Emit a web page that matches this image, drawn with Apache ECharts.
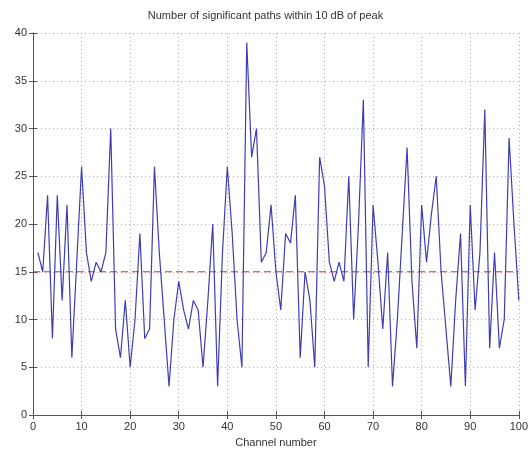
<!DOCTYPE html>
<html>
<head>
<meta charset="utf-8">
<script src="https://cdn.jsdelivr.net/npm/echarts@6/dist/echarts.min.js"></script>
<style>
  html, body { margin: 0; padding: 0; background: #fff; }
  #chart { width: 531px; height: 456px; }
</style>
</head>
<body>
<div id="chart"></div>
<script>
// channel numbers 1..100 and path counts
const channels = [
  1, 2, 3, 4, 5, 6, 7, 8, 9, 10,
  11, 12, 13, 14, 15, 16, 17, 18, 19, 20,
  21, 22, 23, 24, 25, 26, 27, 28, 29, 30,
  31, 32, 33, 34, 35, 36, 37, 38, 39, 40,
  41, 42, 43, 44, 45, 46, 47, 48, 49, 50,
  51, 52, 53, 54, 55, 56, 57, 58, 59, 60,
  61, 62, 63, 64, 65, 66, 67, 68, 69, 70,
  71, 72, 73, 74, 75, 76, 77, 78, 79, 80,
  81, 82, 83, 84, 85, 86, 87, 88, 89, 90,
  91, 92, 93, 94, 95, 96, 97, 98, 99, 100
]
const pathCounts = [
  17, 15, 23, 8, 23, 12, 22, 6, 16, 26,
  17, 14, 16, 15, 17, 30, 9, 6, 12, 5,
  10, 19, 8, 9, 26, 17, 10, 3, 10, 14,
  11, 9, 12, 11, 5, 12, 20, 3, 17, 26,
  19, 10, 5, 39, 27, 30, 16, 17, 22, 15,
  11, 19, 18, 23, 6, 15, 12, 5, 27, 24,
  16, 14, 16, 14, 25, 10, 20, 33, 5, 22,
  16, 9, 17, 3, 10, 19, 28, 14, 7, 22,
  16, 21, 25, 15, 9, 3, 12, 19, 3, 22,
  11, 17, 32, 7, 17, 7, 10, 29, 20, 12
]
// threshold line drawn across the whole axis
const thresholdX = [0, 100]
const thresholdY = [15, 15]

const xTicks = { min: 0, max: 100, interval: 10 }
const yTicks = { min: 0, max: 40, interval: 5 }

const chart = echarts.init(document.getElementById('chart'))

const font = 'Liberation Sans, Arial, sans-serif'
const axisColor = '#555'
const gridLine = { show: true, lineStyle: { color: '#b0b0b0', type: [1, 3], width: 1 } }

const option = {
  animation: false,
  backgroundColor: '#fff',
  title: {
    text: 'Number of significant paths within 10 dB of peak',
    left: 'center',
    top: 5,
    textStyle: { fontFamily: font, fontSize: 11, fontWeight: 'normal', color: '#333' }
  },
  grid: { left: 33, right: 11, top: 33, bottom: 41 },
  xAxis: [{
    type: 'value',
    min: xTicks.min, max: xTicks.max, interval: xTicks.interval,
    name: 'Channel number',
    nameLocation: 'middle',
    nameGap: 22,
    nameTextStyle: { fontFamily: font, fontSize: 11, color: '#333' },
    axisLine: { lineStyle: { color: axisColor } },
    axisTick: { inside: true, length: 4, lineStyle: { color: axisColor } },
    axisLabel: { fontFamily: font, fontSize: 11, color: '#333', margin: 6 },
    splitLine: gridLine
  }, {
    type: 'value', position: 'top',
    min: xTicks.min, max: xTicks.max, interval: xTicks.interval,
    axisLine: { lineStyle: { color: axisColor } },
    axisTick: { inside: true, length: 4, lineStyle: { color: axisColor } },
    axisLabel: { show: false },
    splitLine: { show: false }
  }],
  yAxis: [{
    type: 'value',
    min: yTicks.min, max: yTicks.max, interval: yTicks.interval,
    axisLine: { show: true, lineStyle: { color: axisColor } },
    axisTick: { show: true, inside: true, length: 4, lineStyle: { color: axisColor } },
    axisLabel: { fontFamily: font, fontSize: 11, color: '#333', margin: 6 },
    splitLine: gridLine
  }, {
    type: 'value', position: 'right',
    min: yTicks.min, max: yTicks.max, interval: yTicks.interval,
    axisLine: { show: true, lineStyle: { color: axisColor } },
    axisTick: { show: true, inside: true, length: 4, lineStyle: { color: axisColor } },
    axisLabel: { show: false },
    splitLine: { show: false }
  }],
  series: [{
    type: 'line',
    data: thresholdX.map((x, i) => [x, thresholdY[i]]),
    showSymbol: false,
    silent: true,
    lineStyle: { color: '#d03a3a', type: [7, 4], width: 1.2 }
  }, {
    type: 'line',
    data: channels.map((c, i) => [c, pathCounts[i]]),
    showSymbol: false,
    lineStyle: { color: '#3e3eb2', width: 1.2 }
  }]
}

chart.setOption(option)
</script>
</body>
</html>
